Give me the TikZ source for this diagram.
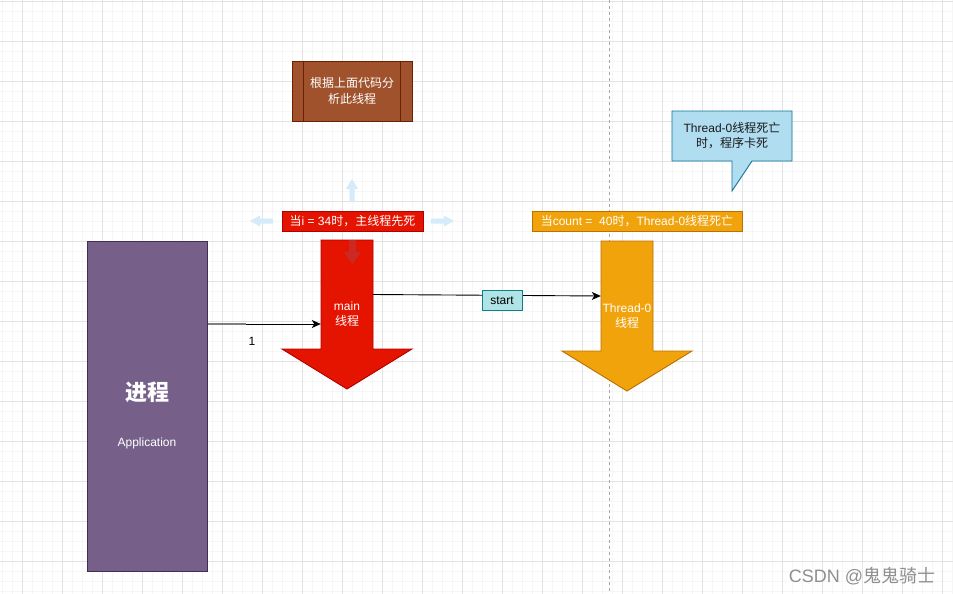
\documentclass[tikz,border=0pt]{standalone}
\usepackage{fontspec}
\setmainfont{Liberation Sans}
\newfontfamily\cjk{Noto Sans CJK SC}
\newcommand\zh[1]{{\cjk #1}}
\usetikzlibrary{arrows.meta,calc}
\definecolor{procfill}{HTML}{76608A}
\definecolor{procborder}{HTML}{432D57}
\definecolor{mainfill}{HTML}{E51400}
\definecolor{mainborder}{HTML}{B20000}
\definecolor{thrfill}{HTML}{F0A30A}
\definecolor{thrborder}{HTML}{BD7000}
\definecolor{brownfill}{HTML}{A0522D}
\definecolor{brownborder}{HTML}{6D1F00}
\definecolor{callfill}{HTML}{B1DDF0}
\definecolor{callborder}{HTML}{10739E}
\definecolor{startfill}{HTML}{B0E3E6}
\definecolor{startborder}{HTML}{0E8088}
\definecolor{minorgrid}{HTML}{F6F6F6}
\definecolor{majorgrid}{HTML}{E3E3E3}
\definecolor{hoverblue}{HTML}{D3EBFA}
\definecolor{hoverred}{HTML}{C4302A}
\definecolor{wm}{HTML}{8F8F8F}
\tikzset{
  minorline/.style={draw=minorgrid, line width=0.7pt},
  majorline/.style={draw=majorgrid, line width=0.9pt},
  txt/.style={text=white, align=center, inner sep=0pt, font=\fontsize{12}{15}\selectfont},
  lbl/.style={minimum height=20pt, inner sep=0pt, text=white, font=\fontsize{12}{15}\selectfont},
  conn/.style={draw=black, line width=0.9pt, -{Stealth[length=9pt,width=8pt,inset=2.5pt]}},
  shaft/.style={minimum width=52pt, inner sep=0pt}
}
\begin{document}
\begin{tikzpicture}[x=1pt,y=-1pt]
\useasboundingbox (0,0) rectangle (953,594);
\fill[white] (0,0) rectangle (953,594);
% grid
\foreach \i in {0,...,95} \draw[minorline] (2+10*\i,0) -- (2+10*\i,594);
\foreach \i in {0,...,59} \draw[minorline] (0,1+10*\i) -- (953,1+10*\i);
\foreach \i in {0,...,23} \draw[majorline] (22+40*\i,0) -- (22+40*\i,594);
\foreach \i in {0,...,14} \draw[majorline] (0,1+40*\i) -- (953,1+40*\i);
% dashed separator
\draw[draw=gray!70, line width=0.9pt, dash pattern=on 3pt off 3pt] (609,0) -- (609,594);

% process box
\node[draw=procborder, fill=procfill, line width=0.9pt, minimum width=120pt, minimum height=330pt, anchor=north west, inner sep=0pt] (proc) at (87,241) {};
\node[txt, font=\fontsize{22}{26}\selectfont\bfseries] (proctitle) at (147,392) {\zh{\bfseries 进程}};
\node[txt] (procapp) at (147,443) {Application};

% main arrow
\filldraw[fill=mainfill, draw=mainborder, line width=0.9pt] (321,240) -- (373,240) -- (373,349) -- (412,349) -- (347,389) -- (282,349) -- (321,349) -- cycle;
\node[shaft, minimum height=109pt] (main) at (347,294.5) {};
\node[txt] (maintext) at (347,314.5) {main\\\zh{线程}};
% hover down arrow inside main
\fill[hoverred, opacity=0.8] (349,240) -- (356,240) -- (356,252) -- (361,252) -- (352.5,264) -- (344,252) -- (349,252) -- cycle;

% thread arrow
\filldraw[fill=thrfill, draw=thrborder, line width=0.9pt] (601,241) -- (653,241) -- (653,351) -- (692,351) -- (627,391) -- (562,351) -- (601,351) -- cycle;
\node[shaft, minimum height=110pt] (thread) at (627,296) {};
\node[txt] (threadtext) at (627,316) {Thread-0\\\zh{线程}};

% labels
\node[lbl, draw=mainborder, fill=mainfill, minimum width=141pt] (mainlbl) at (352.5,221) {\zh{当}i = 34\zh{时，主线程先死}};
\node[lbl, draw=thrborder, fill=thrfill, minimum width=210pt] (thrlbl) at (637,221) {\zh{当}count =\ \ 40\zh{时，}Thread-0\zh{线程死亡}};

% hover arrows (light blue)
\fill[hoverblue] (250,221) -- (260,215.5) -- (260,218.5) -- (273,218.5) -- (273,223.5) -- (260,223.5) -- (260,226.5) -- cycle;
\fill[hoverblue] (454,221) -- (444,215.5) -- (444,218.5) -- (431,218.5) -- (431,223.5) -- (444,223.5) -- (444,226.5) -- cycle;
\fill[hoverblue] (352,179) -- (358,189) -- (354.5,189) -- (354.5,202) -- (349.5,202) -- (349.5,189) -- (346,189) -- cycle;

% brown box
\node[draw=brownborder, fill=brownfill, line width=0.9pt, minimum width=120pt, minimum height=60pt, inner sep=0pt] (note) at (352,91) {};
\draw[brownborder, line width=0.9pt] ([xshift=12pt]note.north west) -- ([xshift=12pt]note.south west);
\draw[brownborder, line width=0.9pt] ([xshift=-12pt]note.north east) -- ([xshift=-12pt]note.south east);
\node[txt, font=\fontsize{12}{16}\selectfont] (notetext) at (352,91) {\zh{根据上面代码分}\\\zh{析此线程}};

% callout
\filldraw[fill=callfill, draw=callborder, line width=0.9pt] (672,111) -- (792,111) -- (792,161) -- (752,161) -- (732,191) -- (732,161) -- (672,161) -- cycle;
\node[txt, text=black!90, font=\fontsize{12}{15}\selectfont] (calltext) at (732,136) {Thread-0\zh{线程死亡}\\\zh{时，程序卡死}};

% connectors
\coordinate (c1) at (207,324);
\draw[conn] (proc.east |- c1) -- (main.west |- c1);
\draw[draw=gray, line width=1.6pt] (proc.east |- c1) -- ++(38,0);
\node[inner sep=0pt, font=\fontsize{12}{15}\selectfont] (one) at (252,341) {1};
\draw[conn] (main.east) -- node[pos=0.566, yshift=-5pt, draw=startborder, fill=startfill, line width=0.9pt, minimum width=40pt, minimum height=20pt, inner sep=0pt, font=\fontsize{12}{15}\selectfont] (start) {start} (thread.west);

% watermark
\node[text=wm, inner sep=0pt, font=\fontsize{18}{21}\selectfont] (wmark) at (862,576) {CSDN @\zh{鬼鬼骑士}};
\end{tikzpicture}
\end{document}
